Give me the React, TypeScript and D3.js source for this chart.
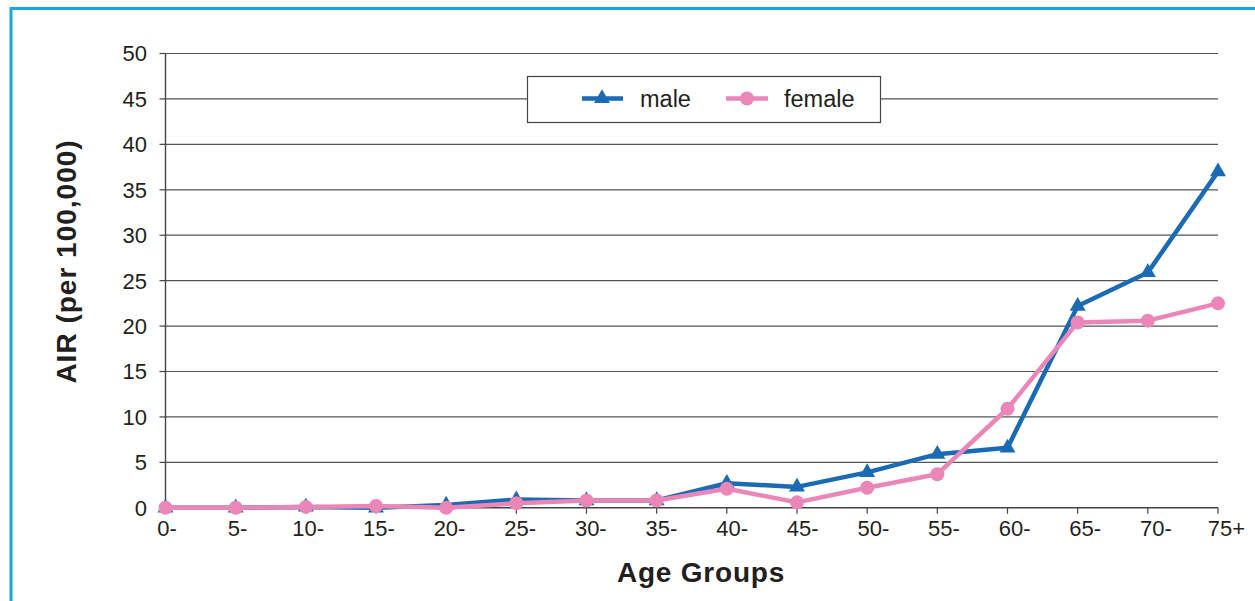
import React from "react";
import * as d3 from "d3";

const categories = ["0-", "5-", "10-", "15-", "20-", "25-", "30-", "35-", "40-", "45-", "50-", "55-", "60-", "65-", "70-", "75+"];
const maleValues = [0, 0, 0.1, 0, 0.3, 0.9, 0.8, 0.8, 2.7, 2.3, 3.9, 5.9, 6.6, 22.2, 25.9, 37.0];
const femaleValues = [0, 0, 0.1, 0.2, 0, 0.5, 0.8, 0.8, 2.1, 0.6, 2.2, 3.7, 10.9, 20.4, 20.6, 22.5];
const yTicks = [0, 5, 10, 15, 20, 25, 30, 35, 40, 45, 50];
const seriesNames = ["male", "female"];

const W = 1255;
const H = 601;
const FONT = "'Liberation Sans', Arial, Helvetica, sans-serif";
const MALE = "#1a6ab4";
const FEMALE = "#ea87b8";
const TEXT = "#231f20";

export default function App() {
  const x0 = 165.5, x1 = 1218;
  const x = d3.scalePoint<string>().domain(categories).range([x0, x1]);
  const xLabel = d3.scalePoint<string>().domain(categories).range([167, 1226.5]);
  const y = d3.scaleLinear().domain([0, 50]).range([507.8, 53.5]);
  const line = d3.line<number>().x((_, i) => x(categories[i]) as number).y((v) => y(v));
  const tri = d3.symbol().type(d3.symbolTriangle).size(110)() as string;

  return (
    <svg width={W} height={H} style={{ position: "absolute", left: 0, top: 0, background: "#fff" }} fontFamily={FONT}>
      <rect x={11} y={8.5} width={W + 20} height={H + 20} fill="none" stroke="#1aa7e0" strokeWidth={3} />
      {yTicks.map((t) => (
        <g key={t}>
          {t > 0 && <line x1={x0} x2={x1} y1={y(t)} y2={y(t)} stroke="#555" strokeWidth={1.2} />}
          <line x1={x0 - 6} x2={x0} y1={y(t)} y2={y(t)} stroke="#444" strokeWidth={1.2} />
          <text x={147} y={y(t)} dy="0.36em" textAnchor="end" fontSize={22} fill={TEXT}>{t}</text>
        </g>
      ))}
      <line x1={x0} x2={x0} y1={y(50)} y2={y(0)} stroke="#444" strokeWidth={1.4} />
      <line x1={x0} x2={x1} y1={y(0)} y2={y(0)} stroke="#444" strokeWidth={1.4} />
      {categories.map((c) => (
        <g key={c}>
          <line x1={x(c)} x2={x(c)} y1={y(0)} y2={y(0) + 6} stroke="#444" strokeWidth={1.2} />
          <text x={xLabel(c) as number} y={536} textAnchor="middle" fontSize={22} fill={TEXT}>{c}</text>
        </g>
      ))}
      <path d={line(maleValues) as string} fill="none" stroke={MALE} strokeWidth={4.5} strokeLinejoin="round" />
      {maleValues.map((v, i) => (
        <path key={i} d={tri} transform={`translate(${x(categories[i])},${y(v)})`} fill={MALE} />
      ))}
      <path d={line(femaleValues) as string} fill="none" stroke={FEMALE} strokeWidth={4.5} strokeLinejoin="round" />
      {femaleValues.map((v, i) => (
        <circle key={i} cx={x(categories[i]) as number} cy={y(v)} r={7} fill={FEMALE} />
      ))}
      <g>
        <rect x={527.5} y={76.5} width={353} height={46} fill="#fff" stroke="#444" strokeWidth={1.2} />
        <line x1={582} x2={623} y1={98.5} y2={98.5} stroke={MALE} strokeWidth={4.5} />
        <path d={tri} transform="translate(602,98.5)" fill={MALE} />
        <text x={640} y={98.5} dy="0.36em" fontSize={23.5} fill={TEXT}>{seriesNames[0]}</text>
        <line x1={726} x2={768} y1={98.5} y2={98.5} stroke={FEMALE} strokeWidth={4.5} />
        <circle cx={747} cy={98.5} r={7} fill={FEMALE} />
        <text x={784} y={98.5} dy="0.36em" fontSize={23.5} fill={TEXT}>{seriesNames[1]}</text>
      </g>
      <text x={701} y={582} textAnchor="middle" fontSize={28} letterSpacing={0.8} fontWeight="bold" fill={TEXT}>Age Groups</text>
      <text transform="translate(76,261.5) rotate(-90)" textAnchor="middle" fontSize={28} letterSpacing={1} fontWeight="bold" fill={TEXT}>AIR (per 100,000)</text>
    </svg>
  );
}
